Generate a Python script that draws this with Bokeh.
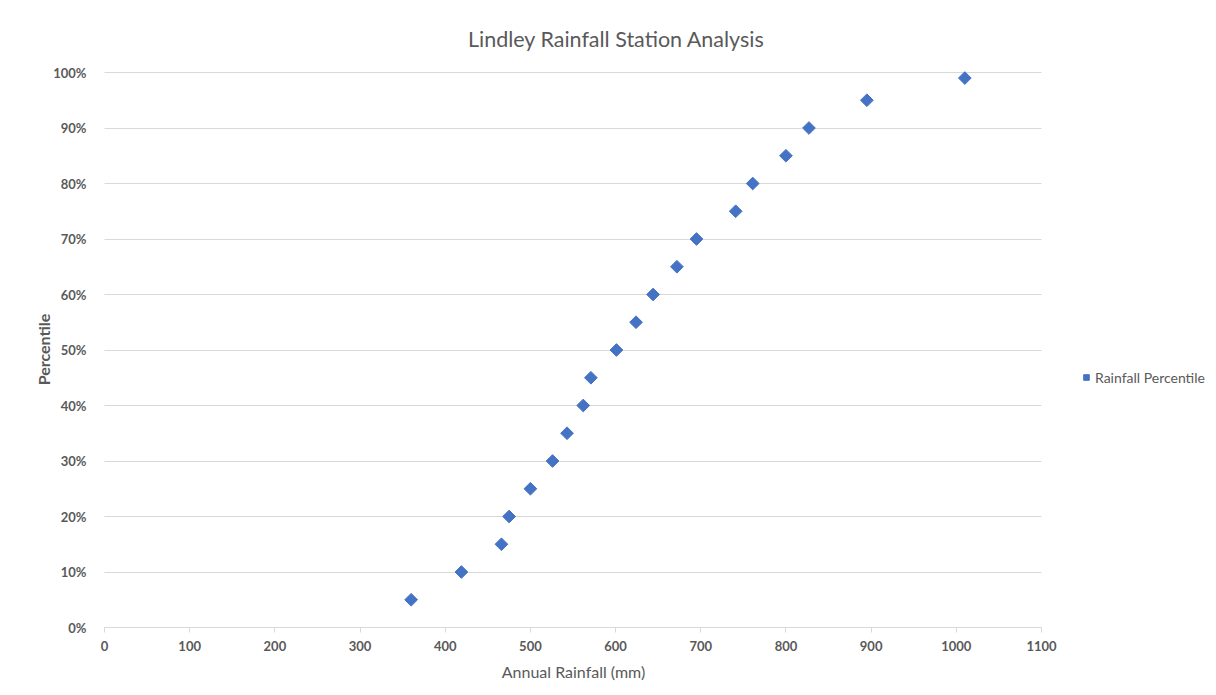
import numpy as np
from bokeh.plotting import figure
from bokeh.models import (ColumnDataSource, FixedTicker, NumeralTickFormatter,
                          Legend, LegendItem, Range1d, Label)
from bokeh.embed import file_html
from bokeh.resources import INLINE

# --- data ---
rainfall_mm = [360, 419, 466, 475, 500, 526, 543, 562, 571, 601,
               624, 644, 672, 695, 741, 761, 800, 827, 895, 1010]
percentile = [0.05, 0.10, 0.15, 0.20, 0.25, 0.30, 0.35, 0.40, 0.45, 0.50,
              0.55, 0.60, 0.65, 0.70, 0.75, 0.80, 0.85, 0.90, 0.95, 0.99]
x_ticks = [0, 100, 200, 300, 400, 500, 600, 700, 800, 900, 1000, 1100]
y_ticks = [0.0, 0.1, 0.2, 0.3, 0.4, 0.5, 0.6, 0.7, 0.8, 0.9, 1.0]

FONT = "Lato"
GREY = "#595959"
BLUE = "#4472C4"
GRID = "#d9d9d9"

X_MIN, X_MAX = x_ticks[0], x_ticks[-1]
Y_MIN, Y_MAX = y_ticks[0], y_ticks[-1]

# Layout (pixels): the data area is 937 x 555 px, with its lower-left corner
# 104 px from the left and 60 px from the bottom of the 1208 x 687 canvas.
# The frame covers the whole canvas; axes are pinned at x=0 / y=0 so that
# titles, axis titles and legend can be placed freely around the data area.
FIG_W, FIG_H = 1208, 687
LEFT, BOTTOM = 104, 60
PLOT_W, PLOT_H = 937, 555
sx = X_MAX / PLOT_W
sy = Y_MAX / PLOT_H
x_range = Range1d(X_MIN - LEFT * sx, X_MIN + (FIG_W - LEFT) * sx)
y_range = Range1d(Y_MIN - BOTTOM * sy, Y_MIN + (FIG_H - BOTTOM) * sy)

src = ColumnDataSource(dict(x=rainfall_mm, y=percentile))

p = figure(width=FIG_W, height=FIG_H, output_backend="svg", toolbar_location=None,
           title=None, x_range=x_range, y_range=y_range,
           min_border=0, min_border_left=0, min_border_right=0,
           min_border_top=0, min_border_bottom=0)
p.outline_line_color = None
p.background_fill_color = "white"
p.border_fill_color = "white"

# grid: horizontal lines only, limited to 0..1100
p.xgrid.grid_line_color = None
p.ygrid.ticker = FixedTicker(ticks=y_ticks)
grid_ok = True
try:
    p.ygrid.cross_bounds = (X_MIN, X_MAX)
    p.ygrid.bounds = (Y_MIN, Y_MAX)
except Exception:
    grid_ok = False
if grid_ok:
    p.ygrid.grid_line_color = GRID
    p.ygrid.grid_line_width = 1
else:
    p.ygrid.grid_line_color = None
    p.segment(x0=[X_MIN] * len(y_ticks), x1=[X_MAX] * len(y_ticks),
              y0=y_ticks, y1=y_ticks, line_color=GRID, line_width=1)

r = p.scatter("x", "y", source=src, marker="square", size=9, angle=np.pi / 4,
              fill_color=BLUE, line_color=BLUE)

# x axis, pinned at y = 0
xa = p.xaxis[0]
xa.fixed_location = Y_MIN
xa.ticker = FixedTicker(ticks=x_ticks)
xa.bounds = (X_MIN, X_MAX)
xa.axis_line_color = GRID
xa.major_tick_line_color = GRID
xa.major_tick_out = 5
xa.major_tick_in = 0
xa.minor_tick_line_color = None
xa.major_label_text_font = FONT
xa.major_label_text_font_size = "13px"
xa.major_label_text_font_style = "bold"
xa.major_label_text_color = GREY
xa.major_label_standoff = 8

# y axis, pinned at x = 0
ya = p.yaxis[0]
ya.fixed_location = X_MIN
ya.ticker = FixedTicker(ticks=y_ticks)
ya.bounds = (Y_MIN, Y_MAX)
ya.formatter = NumeralTickFormatter(format="0%")
ya.axis_line_color = None
ya.major_tick_line_color = None
ya.minor_tick_line_color = None
ya.major_label_text_font = FONT
ya.major_label_text_font_size = "13px"
ya.major_label_text_font_style = "bold"
ya.major_label_text_color = GREY
ya.major_label_standoff = 12

# chart title and axis titles (screen px from the lower-left corner)
p.add_layout(Label(x=616, y=FIG_H - 38, x_units="screen", y_units="screen",
                   text="Lindley Rainfall Station Analysis", text_font=FONT,
                   text_font_size="21.5px", text_color=GREY,
                   text_align="center", text_baseline="middle"))
p.add_layout(Label(x=573, y=FIG_H - 671, x_units="screen", y_units="screen",
                   text="Annual Rainfall (mm)", text_font=FONT,
                   text_font_size="16px", text_color=GREY,
                   text_align="center", text_baseline="middle"))
p.add_layout(Label(x=43, y=FIG_H - 349, x_units="screen", y_units="screen",
                   text="Percentile", angle=np.pi / 2, text_font=FONT,
                   text_font_size="16px", text_font_style="bold",
                   text_color=GREY, text_align="center",
                   text_baseline="middle"))

# legend to the right of the data area
legend = Legend(items=[LegendItem(label="Rainfall Percentile", renderers=[r])],
                location=(1079, 301), border_line_color=None,
                background_fill_alpha=0, padding=0, margin=0, spacing=0,
                glyph_width=14, glyph_height=18, label_standoff=2,
                label_text_font=FONT, label_text_font_size="14px",
                label_text_color=GREY)
p.add_layout(legend, "center")

open("out.html", "w").write(file_html(p, INLINE))
